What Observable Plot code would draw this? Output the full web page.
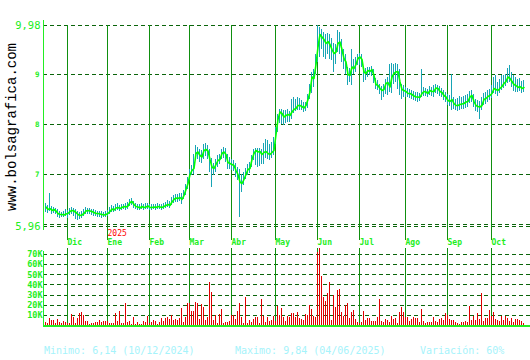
<!DOCTYPE html>
<html><head><meta charset="utf-8">
<script src="https://cdn.jsdelivr.net/npm/d3@7"></script>
<script src="https://cdn.jsdelivr.net/npm/@observablehq/plot@0.6"></script>
<style>
html,body{margin:0;padding:0;background:#fff;}
#wrap{position:relative;width:530px;height:360px;overflow:hidden;font-family:"DejaVu Sans Mono",monospace;background:#fff;}
#price,#vol{position:absolute;left:0;}
#price{top:0;}
#vol{top:248px;}
.foot{position:absolute;top:346px;font-size:10px;line-height:10px;color:#a6f3fb;white-space:pre;}
#wm{position:absolute;left:12px;top:127px;transform:translate(-50%,-50%) rotate(-90deg);font-family:"Liberation Mono",monospace;font-size:14px;line-height:14px;white-space:nowrap;color:#000;}
</style></head>
<body>
<div id="wrap">
  <div id="price"></div>
  <div id="vol"></div>
  <div id="wm">www.bolsagrafica.com</div>
  <div class="foot" id="f1" style="left:44px"></div>
  <div class="foot" id="f2" style="left:235px"></div>
  <div class="foot" id="f3" style="left:420px"></div>
</div>
<script>
// ---- data (one value per trading day, Nov 2024 – Oct 2025) ----
const closes = [
6.35,6.30,6.32,6.28,6.30,6.27,6.22,6.20,6.20,6.19,6.21,6.22,
6.26,6.28,6.27,6.24,6.20,6.18,6.19,6.22,6.27,6.28,
6.27,6.26,6.24,6.22,6.22,6.21,6.20,6.19,6.20,6.22,
6.26,6.31,6.29,6.33,6.34,6.32,6.34,6.36,6.35,6.37,
6.44,6.46,6.40,6.36,6.35,6.33,6.36,6.34,6.35,6.37,6.34,
6.34,6.35,6.34,6.36,6.35,6.34,6.36,6.38,
6.40,6.38,6.45,6.50,6.53,6.52,6.54,6.50,6.58,
6.70,6.82,7.00,7.08,7.12,7.42,7.45,
7.38,7.35,7.48,7.50,7.47,7.30,7.15,7.12,7.20,7.28,
7.30,7.42,7.45,7.40,7.24,7.22,7.20,7.18,7.08,7.00,
6.85,6.82,6.90,7.00,7.10,7.12,
7.30,7.42,7.48,7.45,7.46,7.40,
7.44,7.46,7.42,7.40,7.44,7.48,
7.80,8.10,8.25,
8.22,8.15,8.18,8.20,8.18,
8.25,8.30,8.32,8.38,
8.38,8.36,8.33,8.38,8.50,
8.65,8.95,8.92,
9.20,9.55,9.80,
9.75,9.70,9.62,9.66,
9.60,9.50,9.42,9.45,
9.62,9.65,9.50,
9.32,9.25,9.00,8.98,
9.15,9.12,9.20,9.32,
9.35,9.30,9.05,9.02,
9.08,9.06,9.10,8.98,
8.80,8.78,8.72,8.68,8.70,
8.82,8.84,8.75,8.95,
9.02,9.05,9.06,8.85,
8.70,8.68,8.66,8.62,8.62,
8.60,8.57,8.55,8.55,8.54,
8.62,8.66,8.65,8.62,8.68,8.66,
8.66,8.73,8.72,8.66,8.64,
8.58,8.55,8.48,8.46,8.50,
8.42,8.38,8.38,8.40,8.41,
8.42,8.45,8.46,8.55,8.58,
8.46,8.38,8.36,8.35,8.38,
8.50,8.52,8.56,8.58,8.62,
8.72,8.70,8.68,8.72,8.76,
8.82,8.86,8.95,8.92,8.86,
8.80,8.78,8.74,8.76,8.72,8.74
];
const highs = [
6.42,6.38,6.63,6.36,6.34,6.33,6.30,6.27,6.25,6.26,6.30,6.28,
6.32,6.34,6.33,6.30,6.27,6.25,6.27,6.30,6.34,6.33,
6.32,6.31,6.30,6.28,6.27,6.26,6.26,6.25,6.26,6.28,
6.34,6.38,6.36,6.40,6.42,6.38,6.40,6.41,6.42,6.44,
6.50,6.52,6.47,6.42,6.41,6.40,6.42,6.41,6.42,6.43,6.41,
6.40,6.41,6.40,6.42,6.41,6.41,6.43,6.45,
6.48,6.46,6.55,6.58,6.60,6.60,6.62,6.62,6.68,
6.80,6.95,7.10,7.18,7.40,7.58,7.55,
7.50,7.48,7.60,7.62,7.58,7.50,7.32,7.22,7.30,7.38,
7.40,7.50,7.54,7.52,7.40,7.34,7.30,7.28,7.22,7.15,
7.10,7.00,7.05,7.12,7.20,7.25,
7.38,7.50,7.52,7.52,7.52,7.50,
7.62,7.70,7.68,7.60,7.65,7.75,
7.95,8.20,8.30,
8.30,8.28,8.28,8.30,8.26,
8.50,8.55,8.50,8.55,
8.52,8.48,8.45,8.45,8.60,
8.80,9.05,9.10,
9.40,9.98,9.95,
9.90,9.85,9.80,9.82,
9.80,9.72,9.62,9.60,
9.88,9.85,9.70,
9.50,9.40,9.15,9.12,
9.50,9.30,9.35,9.40,
9.42,9.40,9.15,9.12,
9.15,9.14,9.16,9.10,
8.92,8.88,8.80,8.76,8.80,
8.90,8.95,9.20,9.22,
9.20,9.22,9.20,9.10,
8.80,8.78,8.74,8.72,8.70,
8.68,8.66,8.64,8.65,8.63,
9.10,8.74,8.72,8.70,8.76,8.75,
8.78,8.80,8.78,8.76,8.72,
8.68,8.64,8.60,8.58,9.00,
8.55,8.50,8.52,8.56,8.55,
8.56,8.58,8.60,8.66,8.68,
8.60,8.50,8.48,8.46,8.55,
8.62,8.65,8.68,8.70,8.78,
8.95,8.98,8.85,8.90,8.98,
8.98,9.00,9.12,9.18,9.05,
8.98,8.95,8.90,8.92,8.86,8.88
];
const lows = [
6.24,6.22,6.26,6.20,6.22,6.20,6.14,6.13,6.15,6.14,6.16,6.12,
6.18,6.20,6.16,6.10,6.08,6.11,6.13,6.16,6.20,6.21,
6.20,6.19,6.17,6.16,6.15,6.14,6.13,6.14,6.15,6.16,
6.20,6.25,6.24,6.27,6.28,6.27,6.29,6.30,6.29,6.31,
6.36,6.38,6.33,6.30,6.29,6.28,6.30,6.29,6.30,6.31,6.29,
6.29,6.30,6.29,6.31,6.30,6.29,6.31,6.32,
6.34,6.32,6.38,6.42,6.45,6.44,6.46,6.40,6.50,
6.58,6.70,6.88,6.98,7.00,7.28,7.30,
7.25,7.22,7.30,7.36,7.30,7.05,6.75,6.98,7.05,7.15,
7.20,7.30,7.32,7.25,7.10,7.10,7.08,7.06,6.95,6.88,
6.15,6.65,6.78,6.90,6.98,7.02,
7.15,7.28,7.18,7.14,7.16,7.20,
7.20,7.32,7.30,7.28,7.32,7.38,
7.60,7.85,8.02,
8.00,7.98,8.02,8.05,8.05,
8.10,8.22,8.26,8.28,
8.28,8.28,8.25,8.27,8.32,
8.50,8.62,8.75,
9.00,9.25,9.35,
9.50,9.35,9.30,9.40,
9.30,9.28,9.05,9.20,
9.45,9.40,9.25,
9.11,9.00,8.78,8.85,
8.78,9.00,9.05,9.18,
9.18,9.15,8.85,8.88,
8.95,8.98,8.96,8.82,
8.70,8.68,8.60,8.48,8.55,
8.60,8.58,8.65,8.62,
8.80,8.85,8.70,8.58,
8.51,8.55,8.55,8.54,8.52,
8.50,8.48,8.47,8.45,8.46,
8.55,8.56,8.56,8.55,8.58,8.56,
8.55,8.62,8.60,8.56,8.55,
8.48,8.45,8.38,8.36,8.28,
8.30,8.28,8.27,8.28,8.30,
8.30,8.32,8.34,8.42,8.45,
8.35,8.26,8.25,8.11,8.28,
8.38,8.40,8.45,8.48,8.52,
8.62,8.60,8.56,8.62,8.68,
8.72,8.76,8.82,8.85,8.75,
8.66,8.65,8.64,8.66,8.62,8.64
];
// volume in thousands of shares
const volumes = [
3,2,7,5,5,2,6,3,2,4,3,2,2,11,8,2,7,12,13,10,4,4,1,2,2,3,3,5,3,4,
4,4,2,2,2,12,4,14,2,2,22,3,4,1,8,1,3,1,1,4,3,9,2,3,5,4,1,3,7,4,
7,8,6,10,5,6,5,7,17,3,8,22,22,14,14,23,22,6,21,18,5,8,42,33,5,10,2,11,16,2,
3,3,4,10,10,6,14,22,8,2,28,2,5,3,6,8,8,2,26,9,3,8,4,
5,9,4,19,10,17,8,4,9,8,12,12,8,13,7,6,5,11,10,20,16,9,8,72,76,48,28,24,32,42,
5,30,18,35,36,13,9,20,22,7,13,15,6,3,2,3,14,5,7,7,4,4,4,8,26,4,3,6,5,3,
9,6,7,2,13,18,13,8,8,4,6,8,7,7,3,16,4,2,3,3,3,8,4,3,6,7,5,12,10,6,
5,5,3,2,1,3,3,4,3,19,5,9,5,12,6,32,4,7,7,15,9,13,6,5,4,9,5,9,7,4,
7,3,6,6,5,4,2
];
const monthIdx = [11,31,52,72,93,115,136,157,180,201,223];
const monthLabels = ["Dic","Ene","Feb","Mar","Abr","May","Jun","Jul","Ago","Sep","Oct"];
const yearIdx = [31];
const yearLabels = ["2025"];
const priceGrid = [9.98,9,8,7,6,5.96];
const priceEndTicks = [9.98,5.96];
const priceEndLabels = ["9,98","5,96"];
const priceMidTicks = [9,8,7];
const priceMidLabels = ["9","8","7"];
const volTicks = [10,20,30,40,50,60,70];
const volTickLabels = ["10K","20K","30K","40K","50K","60K","70K"];
const footer = ["Minimo: 6,14 (10/12/2024)","Maximo: 9,84 (04/06/2025)","Variación: 60%"];

// ---- styles ----
const mono = "DejaVu Sans Mono";
const bright = "#22ee22";
const gridCol = "#0a640a";
const monthCol = "#0f8f0f";
const teal = "#17a5b5";
const lineGreen = "#00ff00";
const red = "#e00000";
const crisp = {shapeRendering: "crispEdges"};

const data = closes.map((c, i) => ({i, close: c, high: highs[i], low: lows[i]}));
const vdata = volumes.map((v, i) => ({i, v}));
const xdom = [-1, 242.5];
// a bar one pixel wide (half a trading-day step) starting at the day's position
const left = d => (typeof d === "number" ? d : d.i);
const right = d => (typeof d === "number" ? d : d.i) + 0.5;

const price = Plot.plot({
  width: 530, height: 248,
  marginTop: 25, marginBottom: 22, marginLeft: 43, marginRight: 0,
  x: {domain: xdom, axis: null},
  y: {domain: [5.96, 9.98], axis: null},
  style: {background: "transparent", fontFamily: mono, overflow: "visible"},
  marks: [
    Plot.ruleY(priceGrid, {stroke: gridCol, strokeDasharray: "4,3", ...crisp}),
    Plot.rect(monthIdx, {x1: left, x2: right, y1: () => 5.68, y2: () => 9.98, fill: monthCol, ...crisp}),
    Plot.rect([-1], {x1: left, x2: right, y1: () => 5.88, y2: () => 10.08, fill: bright, ...crisp}),
    Plot.rect(data, {x1: left, x2: right, y1: "low", y2: "high", fill: teal, ...crisp}),
    Plot.line(data, {x: d => d.i + 0.25, y: "close", stroke: lineGreen, strokeWidth: 1.6}),
    Plot.text(priceEndTicks, {x: () => -1, y: d => d, dx: -3, text: (d, i) => priceEndLabels[i], textAnchor: "end", fill: bright, fontSize: 10.5}),
    Plot.text(priceMidTicks, {x: () => -1, y: d => d, dx: -4, text: (d, i) => priceMidLabels[i], textAnchor: "end", fill: bright, fontSize: 7.5, fontWeight: "bold"}),
    Plot.text(monthIdx, {x: d => d, frameAnchor: "bottom", dy: 18.5, text: (d, i) => monthLabels[i], textAnchor: "start", fill: bright, fontSize: 8, fontWeight: "bold"}),
    Plot.text(yearIdx, {x: d => d, frameAnchor: "bottom", dy: 9.5, text: (d, i) => yearLabels[i], textAnchor: "start", fill: "#ff0000", fontSize: 8})
  ]
});
document.getElementById("price").appendChild(price);

const vol = Plot.plot({
  width: 530, height: 112,
  marginTop: 1, marginBottom: 35, marginLeft: 43, marginRight: 0,
  x: {domain: xdom, axis: null},
  y: {domain: [0, 75], axis: null},
  style: {background: "transparent", fontFamily: mono, overflow: "visible"},
  marks: [
    Plot.ruleY(volTicks, {stroke: gridCol, strokeDasharray: "4,3", ...crisp}),
    Plot.rect(monthIdx, {x1: left, x2: right, y1: () => 0, y2: () => 75.5, fill: monthCol, ...crisp}),
    Plot.rect(vdata, {x1: left, x2: right, y1: () => 0, y2: "v", fill: red, ...crisp}),
    Plot.rect([-1], {x1: left, x2: right, y1: () => -1, y2: () => 73, fill: bright, ...crisp}),
    Plot.ruleY([0], {stroke: bright, strokeWidth: 2, ...crisp}),
    Plot.text(volTicks, {x: () => -1, y: d => d, dx: -1, text: (d, i) => volTickLabels[i], textAnchor: "end", fill: bright, fontSize: 8.5, fontWeight: "bold"})
  ]
});
document.getElementById("vol").appendChild(vol);

document.getElementById("f1").textContent = footer[0];
document.getElementById("f2").textContent = footer[1];
document.getElementById("f3").textContent = footer[2];
</script>
</body></html>
